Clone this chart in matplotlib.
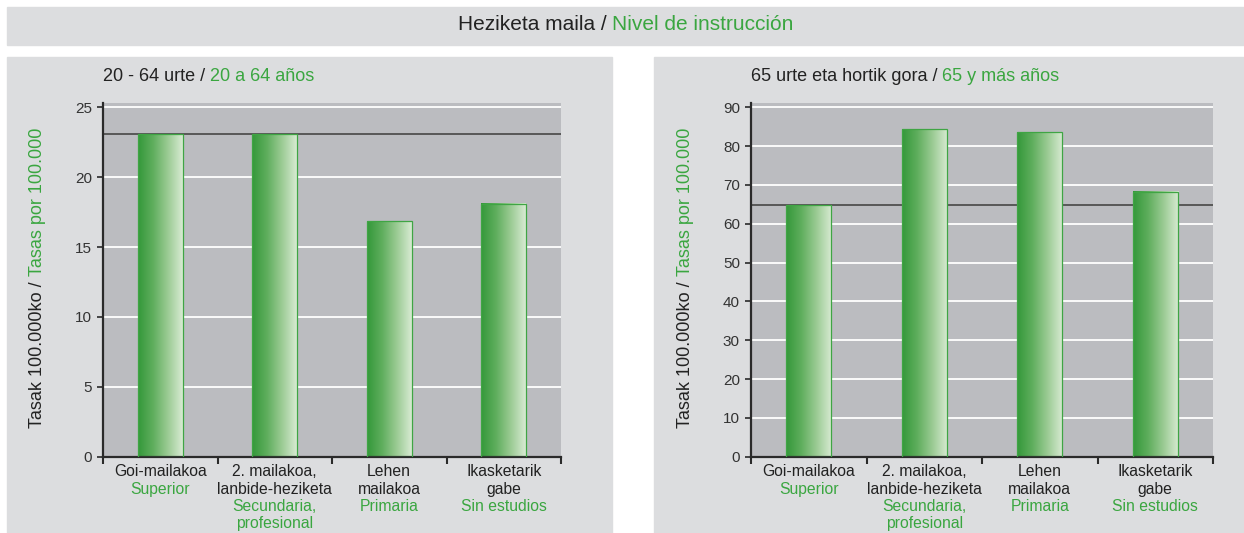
import numpy as np
import matplotlib.pyplot as plt
from matplotlib.colors import LinearSegmentedColormap
from matplotlib.patches import Rectangle
from matplotlib.text import Annotation

plt.rcParams['font.family'] = ['Liberation Sans', 'DejaVu Sans']

# data
cats_eu = ["Goi-mailakoa", "2. mailakoa,\nlanbide-heziketa", "Lehen\nmailakoa", "Ikasketarik\ngabe"]
cats_es = ["Superior", "Secundaria,\nprofesional", "Primaria", "Sin estudios"]
rates_20_64 = [23.1, 23.1, 16.85, 18.1]
rates_65 = [64.9, 84.3, 83.6, 68.3]
ref_20_64 = 23.1
ref_65 = 64.9

GREEN = '#3aa640'
PANEL = '#dcdddf'
PLOTBG = '#bbbcc0'
grad = LinearSegmentedColormap.from_list('g', ['#34983a', '#5fae5d', '#9bcb94', '#d8ebd3'])

W, H = 1244, 533
fig = plt.figure(figsize=(W / 100, H / 100), dpi=100)
fig.patch.set_facecolor('white')


def px_rect(x0, y0, x1, y1, color):
    fig.add_artist(Rectangle((x0 / W, 1 - y1 / H), (x1 - x0) / W, (y1 - y0) / H,
                             transform=fig.transFigure, color=color, zorder=-10))


def two_color(t1, text, **kw):
    # second part glued to the end of the first text
    a = Annotation(text, xy=(1, 0), xycoords=t1, ha='left', va='bottom',
                   annotation_clip=False, **kw)
    fig.add_artist(a)
    return a


# header and panel backgrounds
px_rect(7, 7, 1244, 45, PANEL)
px_rect(7, 57, 612, 533, PANEL)
px_rect(654, 57, 1244, 533, PANEL)

t = fig.text(612 / W, 1 - 25 / H, "Heziketa maila / ", ha='right', va='center',
             fontsize=15, color='#222222')
two_color(t, "Nivel de instrucción", fontsize=15, color=GREEN)


def panel(rect, vals, ref, top, step, title_eu, title_es, ylab_x):
    ax = fig.add_axes(rect)
    ax.set_facecolor(PLOTBG)
    x = np.arange(len(vals))
    ax.set_yticks(np.arange(0, top + 0.1, step))
    ax.yaxis.grid(True, color='white', lw=1.3, zorder=0)
    ax.set_axisbelow(True)
    ax.axhline(ref, color='#505050', lw=1.3, zorder=1)
    bars = ax.bar(x, vals, width=0.39, facecolor='none', edgecolor='#3fa544', lw=0.9, zorder=3)
    g = np.linspace(0, 1, 256).reshape(1, -1)
    for p in bars:
        ax.imshow(g, extent=[p.get_x(), p.get_x() + p.get_width(), 0, p.get_height()],
                  cmap=grad, aspect='auto', zorder=2)
    ax.set_xlim(-0.5, len(vals) - 0.5)
    ax.set_ylim(0, top * 1.013)
    for s in ['top', 'right']:
        ax.spines[s].set_visible(False)
    for s in ['left', 'bottom']:
        ax.spines[s].set_color('#2a2a2a')
        ax.spines[s].set_linewidth(1.6)
    ax.set_xticks(np.arange(-0.5, len(vals), 1))
    ax.set_xticklabels([])
    ax.tick_params(axis='x', length=5, width=1.5, color='#2a2a2a')
    ax.tick_params(axis='y', length=4, width=1.2, color='#2a2a2a', labelsize=11,
                   labelcolor='#333333', pad=4)
    # category labels
    for i in x:
        lines = [(l, '#222222') for l in cats_eu[i].split('\n')] + \
                [(l, GREEN) for l in cats_es[i].split('\n')]
        for k, (txt, c) in enumerate(lines):
            ax.text(i, -0.043 - k * 0.049, txt, transform=ax.get_xaxis_transform(),
                    ha='center', va='center', fontsize=11.3, color=c)
    # title
    t1 = ax.text(0, 1 + 0.075, title_eu, transform=ax.transAxes, ha='left', va='center',
                 fontsize=13, color='#222222')
    two_color(t1, title_es, fontsize=13, color=GREEN)
    # y label
    y1 = fig.text(ylab_x / W, 1 - 428 / H, "Tasak 100.000ko / ", rotation=90, ha='center',
                  va='bottom', fontsize=13, color='#222222')
    fig.add_artist(Annotation("Tasas por 100.000", xy=(0.5, 1), xycoords=y1, rotation=90,
                              ha='center', va='bottom', fontsize=13, color=GREEN,
                              annotation_clip=False))
    return ax


ab = 1 - 456.7 / H
ah = 354 / H
panel([103 / W, ab, 458 / W, ah], rates_20_64, ref_20_64, 25, 5,
      "20 - 64 urte / ", "20 a 64 años", 38)
panel([751 / W, ab, 462 / W, ah], rates_65, ref_65, 90, 10,
      "65 urte eta hortik gora / ", "65 y más años", 685)

fig.savefig('out.png', dpi=100, facecolor='white')
